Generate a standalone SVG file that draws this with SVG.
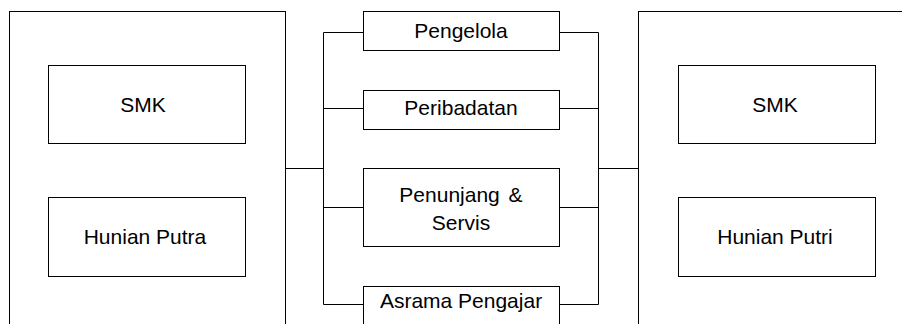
<svg xmlns="http://www.w3.org/2000/svg" width="902" height="324" viewBox="0 0 902 324">
<style>
.box{fill:#fff;stroke:#000;stroke-width:1}
.ln{fill:none;stroke:#000;stroke-width:1}
text{font-family:"Liberation Sans",Arial,sans-serif;font-size:21px;fill:#000;text-anchor:middle}
</style>
<rect width="902" height="324" fill="#fff"/>
<g id="connectors">
<path class="ln" d="M285.5 168.5H323.5M323.5 32.5V304.5M323.5 32.5H363M323.5 108.5H363M323.5 207.5H363M323.5 304.5H363"/>
<path class="ln" d="M559 32.5H598.5M559 108.5H598.5M559 207.5H598.5M559 304.5H598.5M598.5 32.5V304.5M598.5 168.5H638.5"/>
</g>
<g id="left-zone"><rect class="box" x="9.5" y="11.5" width="276" height="330"/></g>
<g id="smk-left"><rect class="box" x="48.5" y="65.5" width="197" height="78"/><text x="143" y="112">SMK</text></g>
<g id="hunian-putra"><rect class="box" x="48.5" y="197.5" width="197" height="79"/><text x="145" y="244">Hunian Putra</text></g>
<g id="pengelola"><rect class="box" x="363.5" y="11.5" width="196" height="39"/><text x="461" y="38">Pengelola</text></g>
<g id="peribadatan"><rect class="box" x="363.5" y="90.5" width="196" height="39"/><text x="461" y="115">Peribadatan</text></g>
<g id="penunjang"><rect class="box" x="363.5" y="168.5" width="196" height="78"/><text x="461" y="202" word-spacing="3">Penunjang &amp;</text><text x="461" y="230">Servis</text></g>
<g id="asrama"><rect class="box" x="363.5" y="286.5" width="196" height="60"/><text x="461" y="308">Asrama Pengajar</text></g>
<g id="right-zone"><rect class="box" x="638.5" y="11.5" width="300" height="330"/></g>
<g id="smk-right"><rect class="box" x="678.5" y="65.5" width="197" height="78"/><text x="775" y="112">SMK</text></g>
<g id="hunian-putri"><rect class="box" x="678.5" y="197.5" width="197" height="79"/><text x="775" y="244">Hunian Putri</text></g>
</svg>
